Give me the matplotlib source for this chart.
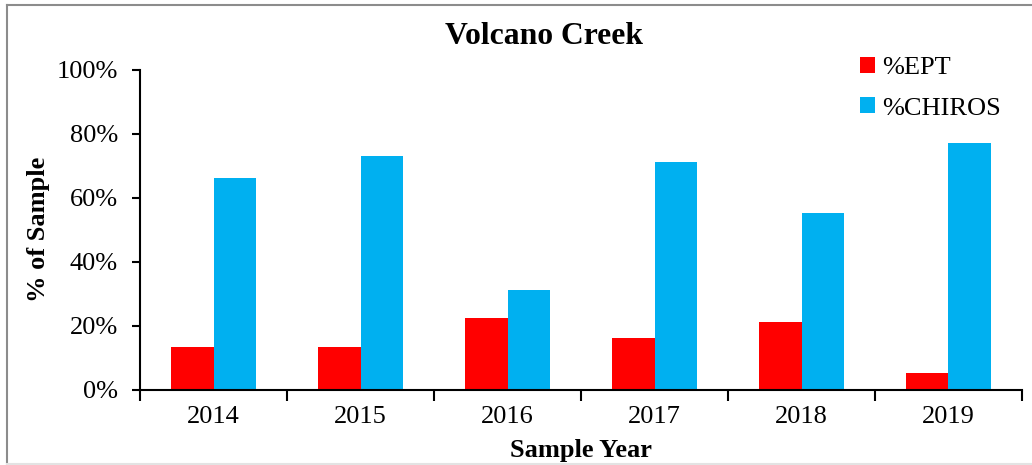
import numpy as np
import matplotlib.pyplot as plt
from matplotlib.lines import Line2D
from matplotlib.ticker import PercentFormatter

plt.rcParams['font.family'] = ['Liberation Serif', 'DejaVu Serif']

years = ['2014', '2015', '2016', '2017', '2018', '2019']
ept = [13.3, 13.3, 22.3, 16.3, 21.3, 5.2]
chiros = [66.3, 73.0, 31.3, 71.3, 55.2, 77.2]

fig = plt.figure(figsize=(10.32, 4.65), dpi=100)
ax = fig.add_axes([0.1357, 0.162, 0.8546, 0.688])

x = np.arange(len(years))
w = 0.29
ax.bar(x - w / 2, ept, w, color='#ff0000', label='%EPT')
ax.bar(x + w / 2, chiros, w, color='#00b0f0', label='%CHIROS')

ax.set_xlim(-0.5, len(years) - 0.5)
ax.set_ylim(0, 100)
ax.set_yticks(np.arange(0, 101, 20))
ax.yaxis.set_major_formatter(PercentFormatter(decimals=0))
ax.set_xticks(x)
ax.set_xticklabels(years)
ax.set_xticks(np.arange(-0.5, len(years), 1), minor=True)
ax.tick_params(axis='x', which='major', length=0, labelsize=19, pad=12)
ax.tick_params(axis='x', which='minor', length=8, width=1.5, direction='out')
ax.tick_params(axis='y', length=6, width=1.5, labelsize=19, pad=10)

for s in ['top', 'right']:
    ax.spines[s].set_visible(False)
for s in ['left', 'bottom']:
    ax.spines[s].set_linewidth(1.5)

ax.set_xlabel('Sample Year', fontsize=19, fontweight='bold', labelpad=8)
ax.set_ylabel('% of Sample', fontsize=19, fontweight='bold', labelpad=5)
fig.text(0.527, 0.922, 'Volcano Creek', ha='center', va='center',
         fontsize=22.8, fontweight='bold')

ax.legend(loc='upper left', bbox_to_anchor=(0.789, 1.115), frameon=False,
          fontsize=19, handlelength=0.57, handleheight=0.57, handletextpad=0.3,
          labelspacing=0.68)

# chart-area border (cut off at right and bottom in the original)
fig.lines.append(Line2D([0.0065, 0.0065], [0.0, 0.989], transform=fig.transFigure,
                        color='#8c8c8c', linewidth=1.5))
fig.lines.append(Line2D([0.0065, 1.0], [0.989, 0.989], transform=fig.transFigure,
                        color='#8c8c8c', linewidth=1.5))
fig.lines.append(Line2D([0.0065, 1.0], [0.003, 0.003], transform=fig.transFigure,
                        color='#e3e3e3', linewidth=1.5))

fig.savefig('out.png', dpi=100)
